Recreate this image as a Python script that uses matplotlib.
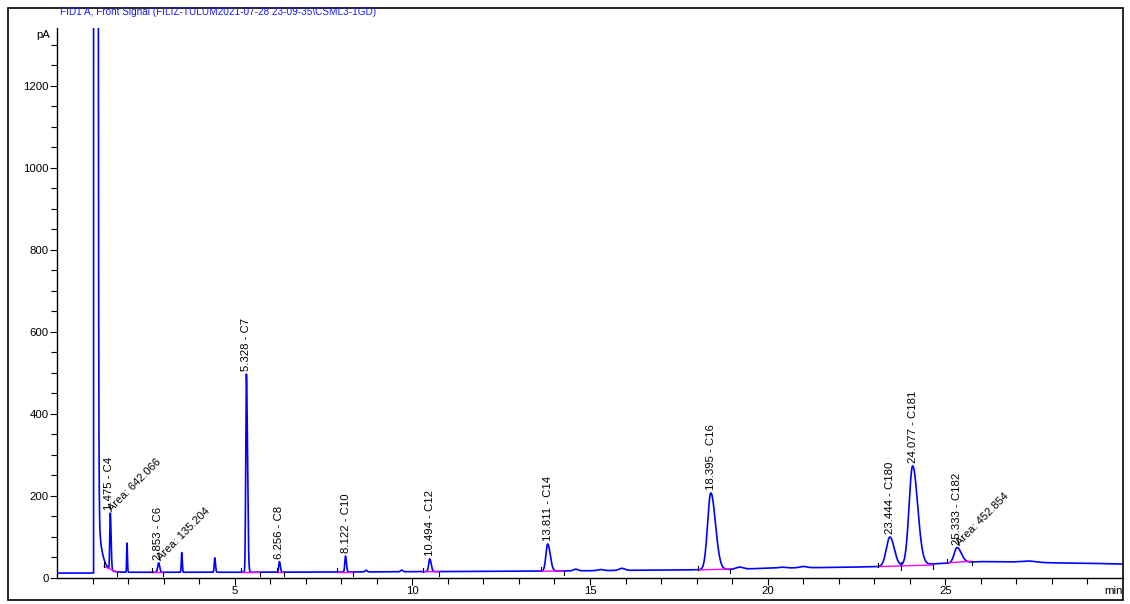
import numpy as np
import matplotlib
matplotlib.use("Agg")
import matplotlib.pyplot as plt
from matplotlib.patches import Rectangle

plt.rcParams['font.family'] = ['Liberation Sans', 'DejaVu Sans']

title = "FID1 A, Front Signal (FILIZ-TULUM2021-07-28 23-09-35\\CSML3-1GD)"

# linha de base (min, pA)
base_t = [0, 1.0, 1.3, 2, 5, 8, 10, 13, 15, 17, 18, 19, 20, 22, 23, 24, 25, 26, 27, 28, 29, 30]
base_v = [12, 12, 14, 14, 14, 14.5, 15.4, 16.5, 17.8, 19.5, 20, 21, 24, 26, 27.5, 31, 36, 40, 39, 37, 36, 34]

# picos: tempo de retenção, altura acima da base, sigma esquerdo/direito
peak_rt = [1.50, 1.97, 2.86, 3.51, 4.44, 5.33, 6.26, 8.12, 8.70, 9.70, 10.49, 13.81,
           14.60, 15.30, 15.90, 18.40, 19.20, 20.40, 21.00, 23.44, 24.08, 25.33, 27.35]
peak_h = [138, 71, 23, 48, 35, 483, 26, 39, 4, 4, 31, 66,
          4, 2.5, 5, 187, 5, 2, 3, 71, 242, 37, 3]
peak_sl = [0.015, 0.010, 0.025, 0.012, 0.015, 0.018, 0.020, 0.020, 0.03, 0.03, 0.030, 0.050,
           0.06, 0.08, 0.08, 0.090, 0.10, 0.10, 0.10, 0.10, 0.10, 0.08, 0.20]
peak_sr = [0.022, 0.012, 0.030, 0.015, 0.020, 0.030, 0.025, 0.025, 0.03, 0.03, 0.040, 0.070,
           0.06, 0.08, 0.08, 0.130, 0.10, 0.10, 0.10, 0.12, 0.14, 0.12, 0.20]

# pico do solvente
solvent_start, solvent_end = 1.03, 1.12
solvent_tail_amp, solvent_tail_tau = 200, 0.11

# rótulos dos picos
label_rt = [1.475, 2.853, 5.328, 6.256, 8.122, 10.494, 13.811, 18.395, 23.444, 24.077, 25.333]
label_txt = ["1.475 - C4", "2.853 - C6", "5.328 - C7", "6.256 - C8", "8.122 - C10", "10.494 - C12",
             "13.811 - C14", "18.395 - C16", "23.444 - C180", "24.077 - C181", "25.333 - C182"]
area_rt = [1.475, 2.853, 25.333]
area_txt = ["Area: 642.066", "Area: 135.204", "Area: 452.854"]

# integração: início, fim, valor no início, valor no fim
int_t0 = [1.33, 2.66, 5.17, 6.18, 7.88, 10.31, 13.61, 18.05, 23.10, 23.75, 25.06]
int_t1 = [1.70, 2.97, 5.70, 6.40, 8.33, 10.75, 14.27, 18.95, 23.75, 24.66, 25.75]
int_y0 = [28, 14, 14, 14.5, 14.5, 15.4, 16.5, 19.5, 27.6, 29.5, 37]
int_y1 = [14, 14, 14, 14.5, 14.5, 15.5, 17.0, 22.0, 29.5, 31.7, 41]

t = np.arange(0, 30.0005, 0.001)
signal = np.interp(t, base_t, base_v)
for rt, h, sl, sr in zip(peak_rt, peak_h, peak_sl, peak_sr):
    s = np.where(t < rt, sl, sr)
    signal += h * np.exp(-0.5 * ((t - rt) / s) ** 2)
signal += np.where((t >= solvent_start) & (t <= solvent_end), 1e5, 0)
after = t > solvent_end
signal[after] += 1e5 * np.exp(-(t[after] - solvent_end) / 0.01)
signal[after] += solvent_tail_amp * np.exp(-(t[after] - solvent_end) / solvent_tail_tau)

fig = plt.figure(figsize=(11.3, 6.04), dpi=100)
ax = fig.add_axes([57 / 1130, 26 / 604, (1123 - 57) / 1130, (578 - 28) / 604])

ax.plot(t, signal, color='#0000ff', lw=1.2, zorder=3)

# linhas de base da integração (magenta) + marcas
for t0, t1, y0, y1 in zip(int_t0, int_t1, int_y0, int_y1):
    ax.plot([t0, t1], [y0, y1], color='#ff00ff', lw=1.0, zorder=4)
    ax.plot([t0, t0], [y0, y0 + 10], color='black', lw=0.8, zorder=4)
    ax.plot([t1, t1], [y1 - 10, y1], color='black', lw=0.8, zorder=4)

for rt, txt in zip(label_rt, label_txt):
    win = (t > rt - 0.06) & (t < rt + 0.06)
    apex = signal[win].max()
    ax.annotate(txt, xy=(rt, apex), xytext=(0, 2), textcoords='offset points',
                rotation=90, ha='center', va='bottom', fontsize=8.2, zorder=5)

for rt, txt in zip(area_rt, area_txt):
    win = (t > rt - 0.06) & (t < rt + 0.06)
    apex = signal[win].max()
    ax.annotate(txt, xy=(rt, apex), xytext=(3, 0), textcoords='offset points',
                rotation=45, ha='left', va='bottom', rotation_mode='anchor',
                fontsize=8, zorder=5)

ax.set_xlim(0, 30)
ax.set_ylim(0, 1341)
ax.set_xticks([5, 10, 15, 20, 25])
ax.set_xticks([m for m in range(1, 30) if m % 5], minor=True)
ax.set_yticks(range(0, 1201, 200))
ax.set_yticks([m for m in range(50, 1341, 50) if m % 200], minor=True)
ax.tick_params(which='major', direction='out', length=5, width=0.8, labelsize=8.2, pad=1)
ax.tick_params(which='minor', direction='out', length=4, width=0.8)
for side in ['top', 'right']:
    ax.spines[side].set_visible(False)
for side in ['left', 'bottom']:
    ax.spines[side].set_linewidth(1.0)

fig.text(50 / 1130, 1 - 35 / 604, "pA", ha='right', va='center', fontsize=8.2)
fig.text(1123 / 1130, 1 - 591 / 604, "min", ha='right', va='center', fontsize=8.2)
fig.text(60 / 1130, 1 - 12 / 604, title, ha='left', va='center', fontsize=7.2, color='#1a1aff')

fig.patches.append(Rectangle((7.5 / 1130, 4 / 604), (1123 - 7.5) / 1130, (598 - 6) / 604,
                             transform=fig.transFigure, fill=False, ec='black', lw=1.2))

fig.savefig("out.png", dpi=100)
plt.close(fig)
